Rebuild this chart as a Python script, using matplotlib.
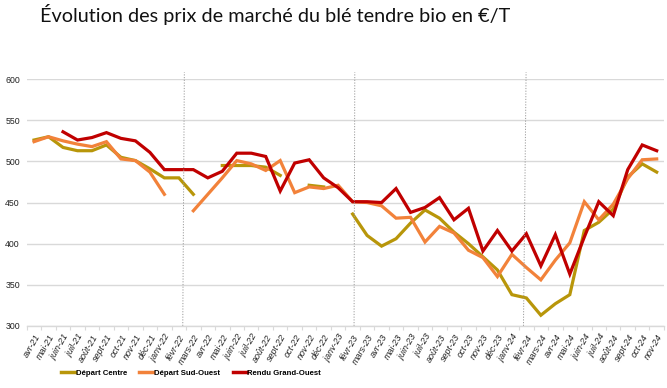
import numpy as np
import matplotlib
matplotlib.use("Agg")
import matplotlib.pyplot as plt
from matplotlib.lines import Line2D

nan = np.nan
months = ["avr-21", "mai-21", "juin-21", "juil-21", "août-21", "sept-21", "oct-21", "nov-21",
          "déc-21", "janv-22", "févr-22", "mars-22", "avr-22", "mai-22", "juin-22", "juil-22",
          "août-22", "sept-22", "oct-22", "nov-22", "déc-22", "janv-23", "févr-23", "mars-23",
          "avr-23", "mai-23", "juin-23", "juil-23", "août-23", "sept-23", "oct-23", "nov-23",
          "déc-23", "janv-24", "févr-24", "mars-24", "avr-24", "mai-24", "juin-24", "juil-24",
          "août-24", "sept-24", "oct-24", "nov-24"]

depart_centre = [526, 530, 517, 513, 513, 520, 505, 501, 491, 480, 480, 460,
                 nan, 495, 495, 495, 493, 483, nan, 471, 469, nan, 436, 410,
                 397, 406, 425, 441, 431, 414, 400, 384, 368, 338, 334, 313,
                 327, 338, 416, 426, 442, 481, 497, 487]
depart_sud_ouest = [524, 530, 525, 521, 518, 524, 503, 501, 487, 460, nan, 440,
                    460, 480, 501, 497, 489, 501, 462, 469, 467, 471, 451, 450,
                    446, 431, 432, 402, 421, 413, 392, 383, 360, 387, 371, 356,
                    380, 401, 451, 429, 448, 479, 502, 503]
rendu_grand_ouest = [nan, nan, 536, 526, 529, 535, 528, 525, 511, 490, 490, 490,
                     480, 488, 510, 510, 506, 464, 498, 502, 480, 468, 451, 451,
                     450, 467, 438, 444, 456, 429, 443, 391, 416, 391, 412, 373,
                     411, 363, 408, 451, 434, 490, 520, 513]

series = [("Départ Centre", depart_centre, "#B8960A"),
          ("Départ Sud-Ouest", depart_sud_ouest, "#F2823A"),
          ("Rendu Grand-Ouest", rendu_grand_ouest, "#C00000")]

yticks = [300, 350, 400, 450, 500, 550, 600]

fig = plt.figure(figsize=(6.67, 3.88), dpi=100)
ax = fig.add_axes([0.0402, 0.160, 0.9552, 0.636])

x = np.arange(len(months))
for name, vals, col in series:
    ax.plot(x, np.array(vals, dtype=float), color=col, lw=2.3, solid_joinstyle="miter", label=name)

ax.set_xlim(-0.5, len(months) - 0.5)
ax.set_ylim(300, 600)
ax.set_yticks(yticks)
ax.yaxis.grid(True, color="#D9D9D9", lw=1.0)
ax.set_axisbelow(True)
for s in ["top", "right", "left"]:
    ax.spines[s].set_visible(False)
ax.spines["bottom"].set_color("#D9D9D9")
ax.spines["bottom"].set_linewidth(1.0)

tick_font = ["Liberation Sans Narrow", "Liberation Sans", "DejaVu Sans"]
ax.tick_params(axis="y", length=0, pad=5, labelsize=6.3, labelcolor="#222222")
for lab in ax.get_yticklabels():
    lab.set_family(tick_font)

ax.set_xticks(x)
ax.set_xticklabels(months, rotation=60, ha="right", rotation_mode="anchor",
                   fontsize=6.5, style="italic", family=tick_font, color="#222222")
ax.tick_params(axis="x", which="major", length=0, pad=5)
ax.set_xticks(np.arange(-0.5, len(months), 1), minor=True)
ax.tick_params(axis="x", which="minor", length=3, color="#D9D9D9", width=0.8)

# dotted separators
for xb, xt in [(10.27, 10.38), (22.1, 22.15), (33.8, 33.98)]:
    ax.plot([xb, xt], [300, 608.5], color="#9A9A9A", lw=0.7, ls=(0, (1.2, 1.6)), clip_on=False)

fig.text(0.060, 0.962, "Évolution des prix de marché du blé tendre bio en €/T",
         fontsize=14.3, family=["Lato", "DejaVu Sans"], va="center", ha="left", color="#111111")

handles = [Line2D([], [], color=c, lw=2.5) for _, _, c in series]
labels = [n for n, _, _ in series]
fig.legend(handles, labels, loc="center left", bbox_to_anchor=(0.081, 0.038), ncol=3,
           frameon=False, handlelength=1.8, handletextpad=0.1, columnspacing=1.6,
           prop={"family": tick_font, "weight": "bold", "size": 5.6})

fig.savefig("out.png", dpi=100)
